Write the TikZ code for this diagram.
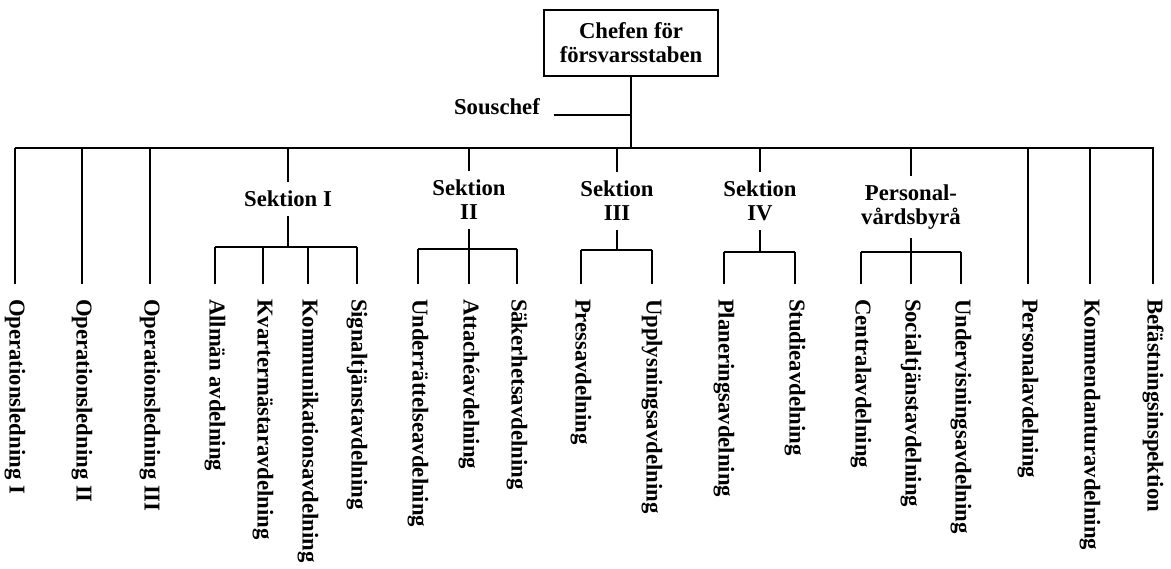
\documentclass[tikz,border=0pt]{standalone}
\usepackage{fontspec}
\setmainfont{Liberation Serif}
\usetikzlibrary{positioning}

\tikzset{
  every node/.style={font=\bfseries\fontsize{11.35}{12}\selectfont},
  chefbox/.style={draw, line width=1.4pt, align=center, minimum width=87pt, minimum height=33pt, inner sep=2pt},
  sektion/.style={align=center, inner xsep=0pt, inner ysep=4pt},
  avd/.style={rotate=-90, anchor=west, inner xsep=7pt, inner ysep=0pt},
}

\begin{document}
\begin{tikzpicture}[x=0.5pt, y=-0.5pt, line width=1pt]
        \useasboundingbox (0,0) rectangle (1171,568);
        % top
        \node[chefbox] (chef) at (631,43) {Chefen för\\försvarsstaben};
        \node (sous) at (497,107) {Souschef};
        \coordinate (busl) at (15,148);
        \coordinate (busr) at (1154,148);
        \draw (busl) -- (busr);
        \draw (chef.south) -- (chef.south |- busl);
        \draw ([xshift=3pt]sous.base east) -- (sous.base east -| chef.south);

        % sections
        \node[sektion] (sek1) at (288,199) {Sektion I};
        \node[sektion] (sek2) at (469,200) {Sektion\\II};
        \node[sektion] (sek3) at (617,201) {Sektion\\III};
        \node[sektion] (sek4) at (760,201) {Sektion\\IV};
        \node[sektion] (pvb) at (911,207) {Personal-\\vårdsbyrå};
        \draw (sek1 |- busl) -- (sek1.north);
        \draw (sek2 |- busl) -- (sek2.north);
        \draw (sek3 |- busl) -- (sek3.north);
        \draw (sek4 |- busl) -- (sek4.north);
        \draw (pvb |- busl) -- (pvb.north);

        \coordinate (s1l) at (215,247);
        \coordinate (s1r) at (357,247);
        \coordinate (s2l) at (418,249);
        \coordinate (s2r) at (517,249);
        \coordinate (s3l) at (581,250);
        \coordinate (s3r) at (652,250);
        \coordinate (s4l) at (724,252);
        \coordinate (s4r) at (795,252);
        \coordinate (s5l) at (861,252);
        \coordinate (s5r) at (961,252);
        \draw (s1l) -- (s1r);
        \draw (s2l) -- (s2r);
        \draw (s3l) -- (s3r);
        \draw (s4l) -- (s4r);
        \draw (s5l) -- (s5r);
        \draw (sek1.south) -- (sek1.south |- s1l);
        \draw (sek2.south) -- (sek2.south |- s2l);
        \draw (sek3.south) -- (sek3.south |- s3l);
        \draw (sek4.south) -- (sek4.south |- s4l);
        \draw (pvb.south) -- (pvb.south |- s5l);

        % departments straight under the chief
        \node[avd] (op1) at (15,284) {Operationsledning I};
        \node[avd] (op2) at (82,284) {Operationsledning II};
        \node[avd] (op3) at (150,284) {Operationsledning III};
        \node[avd] (pers) at (1028,284) {Personalavdelning};
        \node[avd] (komd) at (1090,284) {Kommendanturavdelning};
        \node[avd] (befi) at (1153,284) {Befästningsinspektion};
        \draw (op1 |- busl) -- (op1.west);
        \draw (op2 |- busl) -- (op2.west);
        \draw (op3 |- busl) -- (op3.west);
        \draw (pers |- busl) -- (pers.west);
        \draw (komd |- busl) -- (komd.west);
        \draw (befi |- busl) -- (befi.west);

        % Sektion I
        \node[avd] (allm) at (215,284) {Allmän avdelning};
        \node[avd] (kvar) at (263,284) {Kvartermästaravdelning};
        \node[avd] (komm) at (308,284) {Kommunikationsavdelning};
        \node[avd] (sign) at (357,284) {Signaltjänstavdelning};
        \draw (allm |- s1l) -- (allm.west);
        \draw (kvar |- s1l) -- (kvar.west);
        \draw (komm |- s1l) -- (komm.west);
        \draw (sign |- s1l) -- (sign.west);

        % Sektion II
        \node[avd] (undr) at (418,284) {Underrättelseavdelning};
        \node[avd] (atta) at (469,284) {Attachéavdelning};
        \node[avd] (sake) at (517,284) {Säkerhetsavdelning};
        \draw (undr |- s2l) -- (undr.west);
        \draw (atta |- s2l) -- (atta.west);
        \draw (sake |- s2l) -- (sake.west);

        % Sektion III
        \node[avd] (pres) at (581,284) {Pressavdelning};
        \node[avd] (uppl) at (652,284) {Upplysningsavdelning};
        \draw (pres |- s3l) -- (pres.west);
        \draw (uppl |- s3l) -- (uppl.west);

        % Sektion IV
        \node[avd] (plan) at (724,284) {Planeringsavdelning};
        \node[avd] (stud) at (795,284) {Studieavdelning};
        \draw (plan |- s4l) -- (plan.west);
        \draw (stud |- s4l) -- (stud.west);

        % Personalvårdsbyrå
        \node[avd] (cent) at (861,284) {Centralavdelning};
        \node[avd] (soci) at (911,284) {Socialtjänstavdelning};
        \node[avd] (unde) at (961,284) {Undervisningsavdelning};
        \draw (cent |- s5l) -- (cent.west);
        \draw (soci |- s5l) -- (soci.west);
        \draw (unde |- s5l) -- (unde.west);
    \end{tikzpicture}
\end{document}
